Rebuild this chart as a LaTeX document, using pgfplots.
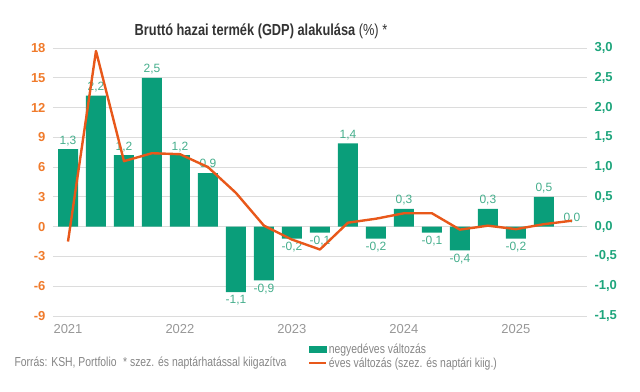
\documentclass[border=0pt]{standalone}
\usepackage{pgfplots}
\pgfplotsset{compat=1.18}
\usepackage{fontspec}
\setmainfont{Liberation Sans}[FakeStretch=0.8]
\newfontfamily\plainsans{Liberation Sans}
\definecolor{barg}{HTML}{0A9E7A}
\definecolor{lineo}{HTML}{E8581A}
\definecolor{tickor}{HTML}{F07B2C}
\definecolor{tickgr}{HTML}{1EA57C}
\definecolor{labg}{HTML}{45AE8C}
\definecolor{txtgray}{HTML}{858585}
\definecolor{gridc}{HTML}{DCDCDC}
\definecolor{titc}{HTML}{333333}
\begin{document}
\begin{tikzpicture}[x=1pt,y=1pt]
\path[use as bounding box] (0,0) rectangle (640,391);
\begin{axis}[
  at={(53pt,75pt)}, anchor=south west,
  scale only axis, width=534pt, height=268pt,
  xmin=-0.536, xmax=18.54, ymin=-1.5, ymax=3,
  axis y line*=right, axis x line=none,
  ytick={-1.5,-1,-0.5,0,0.5,1,1.5,2,2.5,3},
  ymajorgrids, grid style={gridc, line width=0.8pt},
  major tick length=0pt, y axis line style={draw=none},
  yticklabel style={font=\plainsans\fontsize{13}{13}\selectfont\bfseries, text=tickgr, xshift=4pt},
  /pgf/number format/assume math mode=true,
  /pgf/number format/use comma,
  /pgf/number format/fixed,
  /pgf/number format/fixed zerofill,
  /pgf/number format/precision=1,
  ybar, bar width=20pt,
  nodes near coords,
  nodes near coords style={font=\plainsans\fontsize{12}{12}\selectfont, text=labg,
    /pgf/number format/assume math mode=true,
    /pgf/number format/use comma,
    /pgf/number format/fixed,
    /pgf/number format/fixed zerofill,
    /pgf/number format/precision=1},
  clip=false,
]
\addplot[fill=barg, draw=none] coordinates {
(0,1.3) (1,2.2) (2,1.2) (3,2.5) (4,1.2) (5,0.9) (6,-1.1) (7,-0.9)
(8,-0.2) (9,-0.1) (10,1.4) (11,-0.2) (12,0.3) (13,-0.1) (14,-0.4)
(15,0.3) (16,-0.2) (17,0.5) (18,0.0)};
\end{axis}
\begin{axis}[
  at={(53pt,75pt)}, anchor=south west,
  scale only axis, width=534pt, height=268pt,
  xmin=-0.536, xmax=18.54, ymin=-9, ymax=18,
  axis y line*=left, axis x line*=bottom,
  x axis line style={draw=none}, y axis line style={draw=none},
  ytick={-9,-6,-3,0,3,6,9,12,15,18},
  xtick={0,4,8,12,16}, xticklabels={2021,2022,2023,2024,2025},
  major tick length=0pt,
  /pgf/number format/assume math mode=true,
  yticklabel style={font=\plainsans\fontsize{13}{13}\selectfont\bfseries, text=tickor, xshift=-4pt},
  xticklabel style={font=\plainsans\fontsize{13}{13}\selectfont, text=txtgray!85, yshift=-5pt},
  clip=false,
  legend style={at={(0.4775,-0.098)}, anchor=north west, draw=none, fill=none,
    inner sep=0pt, row sep=1pt, font=\fontsize{13}{13}\selectfont, text=txtgray,
    nodes={inner xsep=1.5pt, inner ysep=1pt}},
  legend cell align=left,
]
\addlegendimage{legend image code/.code={\fill[barg] (0pt,-3pt) rectangle (17pt,3pt);}}
\addlegendentry{negyedéves változás}
\addplot[lineo, line width=2.4pt, line join=round,
  legend image code/.code={\draw[lineo,line width=2.2pt] (0pt,0pt) -- (17pt,0pt);}]
  coordinates {
(0,-1.5) (1,17.7) (2,6.6) (3,7.4) (4,7.3) (5,6.0) (6,3.4) (7,0.1)
(8,-1.3) (9,-2.3) (10,0.4) (11,0.8) (12,1.35) (13,1.35) (14,-0.3)
(15,0.1) (16,-0.25) (17,0.25) (18,0.6)};
\addlegendentry{éves változás (szez. és naptári kiig.)}
\end{axis}
\node[font=\fontsize{16}{16}\selectfont, text=titc] at (261,360) {\bfseries Bruttó hazai termék (GDP) alakulása \mdseries(\%) *};
\node[anchor=west, font=\fontsize{13}{13}\selectfont, text=txtgray] at (11,28) {Forrás: KSH, Portfolio\enspace * szez. és naptárhatással kiigazítva};
\end{tikzpicture}
\end{document}
